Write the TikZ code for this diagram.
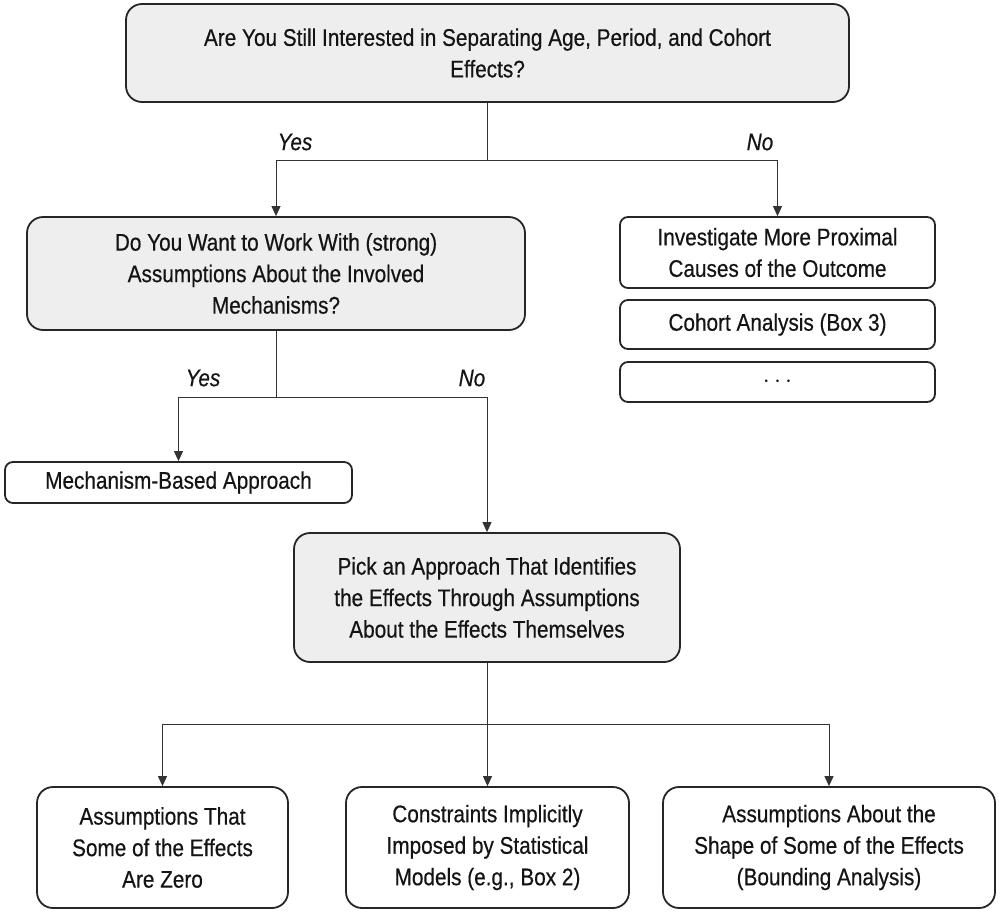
\documentclass[tikz,border=0pt]{standalone}
\usepackage{fontspec}
\setmainfont{Liberation Sans}[FakeStretch=0.865,FakeBold=0.5]
\usetikzlibrary{arrows.meta}
\begin{document}
\begin{tikzpicture}[x=1pt,y=-1pt,
  every node/.style={font=\fontsize{24}{31.5}\selectfont, text=black!92},
  box/.style={draw=black!85, line width=1.8pt, rounded corners=8pt, align=center, inner sep=0pt},
  bigbox/.style={box, rounded corners=16pt},
  qbox/.style={bigbox, fill=gray!13},
  ln/.style={line width=1pt, draw=black!80},
  arr/.style={ln, -{Triangle[length=10pt,width=9pt]}},
  lab/.style={inner sep=0pt, font=\fontsize{24}{31.5}\selectfont\itshape}]
\useasboundingbox (0,0) rectangle (1000,913);
% boxes
\node[qbox, minimum width=723pt, minimum height=98pt] (top) at (487.5,53) {Are You Still Interested in Separating Age, Period, and Cohort\\Effects?};
\node[qbox, minimum width=498pt, minimum height=113pt] (q2) at (276,273.5) {Do You Want to Work With (strong)\\Assumptions About the Involved\\Mechanisms?};
\node[box, minimum width=315pt, minimum height=71pt] (inv) at (777.5,252.5) {Investigate More Proximal\\Causes of the Outcome};
\node[box, minimum width=315pt, minimum height=49pt] (coh) at (777.5,324.5) {Cohort Analysis (Box 3)};
\node[box, minimum width=315pt, minimum height=40pt] (dots) at (777.5,382) {$\cdots$};
\node[box, minimum width=347pt, minimum height=41pt] (mech) at (178.5,482.5) {Mechanism-Based Approach};
\node[qbox, minimum width=386pt, minimum height=129pt] (pick) at (487,597.5) {Pick an Approach That Identifies\\the Effects Through Assumptions\\About the Effects Themselves};
\node[bigbox, minimum width=251pt, minimum height=121pt] (za) at (162.5,847.5) {Assumptions That\\Some of the Effects\\Are Zero};
\node[bigbox, minimum width=283pt, minimum height=121pt] (zb) at (487.5,847.5) {Constraints Implicitly\\Imposed by Statistical\\Models (e.g., Box 2)};
\node[bigbox, minimum width=332pt, minimum height=121pt] (zc) at (829,847.5) {Assumptions About the\\Shape of Some of the Effects\\(Bounding Analysis)};
% junctions
\coordinate (j1) at (487.5,160);
\coordinate (j2) at (276,397);
\coordinate (j3) at (487,724);
% connectors
\draw[ln] (top.south) -- (j1);
\draw[arr] (j1) -| (q2.north);
\draw[arr] (j1) -| (inv.north);
\draw[ln] (q2.south) -- (j2);
\draw[arr] (j2) -| (mech.north);
\draw[arr] (j2) -| (pick.north);
\draw[ln] (pick.south) -- (j3);
\draw[arr] (j3) -| (za.north);
\draw[arr] (j3) -| (zb.north);
\draw[arr] (j3) -| (zc.north);
% labels
\node[lab] (yes1) at (295,142) {Yes};
\node[lab] (no1) at (760,142) {No};
\node[lab] (yes2) at (203,378) {Yes};
\node[lab] (no2) at (472,378) {No};
\end{tikzpicture}
\end{document}
